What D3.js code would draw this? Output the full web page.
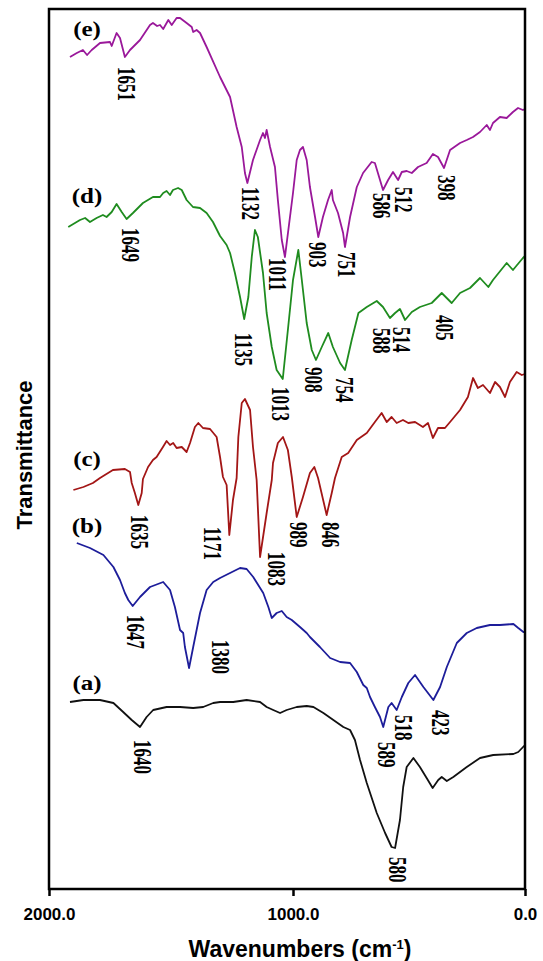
<!DOCTYPE html>
<html>
<head>
<meta charset="utf-8">
<script src="https://cdn.jsdelivr.net/npm/d3@7"></script>
<style>
  body { margin: 0; background: #fff; }
  svg { display: block; }
</style>
</head>
<body>
<div id="chart"></div>
<script>
// spectra: [wavenumber, transmittance (stacked, arbitrary units)]
const specE = [[1914,83.2],[1886,83.6],[1861,83.9],[1844,83.4],[1825,83.9],[1791,84.6],[1750,84.7],[1743,84.3],[1723,85.6],[1709,85.1],[1689,83.2],[1668,83.9],[1627,84.9],[1586,86.4],[1574,86.6],[1557,86.3],[1545,86.4],[1532,86.0],[1518,86.6],[1511,86.9],[1497,86.4],[1477,87.1],[1463,87.1],[1436,86.6],[1415,86.2],[1409,85.7],[1395,85.9],[1381,85.6],[1354,84.2],[1299,81.2],[1258,79.2],[1231,76.2],[1210,74.2],[1197,71.6],[1187,70.6],[1164,72.9],[1135,74.9],[1123,75.6],[1115,75.1],[1108,75.9],[1094,74.2],[1074,72.2],[1062,68.9],[1046,64.9],[1033,63.2],[1000,69.6],[984,72.9],[970,73.9],[957,74.2],[941,72.9],[927,70.2],[905,67.2],[891,65.2],[871,67.2],[849,68.9],[833,69.9],[828,68.9],[806,67.6],[784,65.6],[776,64.2],[754,67.2],[725,70.2],[698,71.6],[661,72.7],[647,72.6],[634,71.6],[612,69.9],[590,70.9],[569,71.7],[547,70.9],[531,71.7],[510,71.8],[488,71.6],[461,72.2],[424,72.6],[397,73.5],[375,73.2],[349,72.1],[323,73.9],[280,74.6],[251,74.9],[224,75.2],[194,75.7],[165,76.4],[151,75.9],[138,76.6],[108,77.2],[79,77.1],[52,77.7],[30,78.1],[9,77.9],[0,78.0]];

const specD = [[1921,66.2],[1873,66.9],[1852,67.1],[1832,66.7],[1805,67.1],[1779,67.4],[1764,67.2],[1743,67.7],[1723,68.5],[1702,67.7],[1682,67.0],[1656,67.6],[1615,68.6],[1574,69.2],[1545,69.2],[1532,69.6],[1518,69.8],[1504,69.4],[1492,69.9],[1471,70.1],[1456,69.9],[1436,68.9],[1410,68.2],[1381,68.1],[1354,67.6],[1328,66.7],[1299,65.3],[1272,64.4],[1258,63.6],[1238,61.6],[1217,59.2],[1200,57.0],[1183,59.2],[1169,63.2],[1156,65.9],[1144,65.2],[1123,61.6],[1108,57.6],[1087,54.2],[1067,51.9],[1042,51.0],[1021,55.9],[1000,60.9],[977,63.9],[962,60.9],[941,56.6],[919,53.9],[901,52.9],[876,54.2],[848,55.6],[828,54.2],[797,52.6],[776,51.9],[747,54.9],[718,57.6],[682,58.2],[639,58.8],[612,58.2],[582,57.1],[560,57.6],[539,58.0],[517,56.9],[488,57.7],[453,58.2],[402,58.6],[359,59.6],[316,58.6],[280,59.6],[237,60.1],[194,61.1],[158,60.2],[138,60.9],[79,62.6],[52,61.9],[9,63.1],[0,63.3]];

const specC = [[1900,39.9],[1859,40.2],[1820,40.6],[1791,41.1],[1738,41.9],[1689,42.0],[1668,41.7],[1661,40.6],[1648,39.6],[1634,38.4],[1620,39.6],[1615,41.0],[1594,42.2],[1574,42.9],[1559,43.2],[1533,44.2],[1518,44.8],[1504,44.4],[1491,44.6],[1477,44.1],[1456,44.2],[1436,43.7],[1422,44.6],[1402,46.2],[1388,46.6],[1369,46.1],[1340,46.0],[1313,45.2],[1299,43.2],[1287,41.2],[1272,40.4],[1261,35.4],[1246,38.9],[1231,41.1],[1224,45.2],[1210,48.6],[1197,49.0],[1176,47.9],[1164,44.2],[1149,40.9],[1135,33.2],[1108,37.6],[1087,40.9],[1082,42.6],[1062,44.6],[1041,45.2],[1021,43.9],[1005,41.2],[984,37.2],[957,39.2],[927,41.6],[908,42.2],[892,41.1],[855,37.4],[833,39.6],[819,41.1],[790,43.2],[762,43.6],[725,44.9],[682,45.6],[647,46.7],[618,47.6],[596,46.7],[575,47.2],[553,46.6],[526,46.9],[503,46.6],[474,46.7],[440,46.2],[418,46.6],[397,45.1],[375,46.1],[345,46.1],[323,46.7],[280,47.9],[246,49.2],[224,51.1],[203,50.1],[181,50.4],[151,49.6],[129,50.7],[108,50.2],[86,49.2],[65,50.7],[36,51.7],[14,51.4],[0,51.5]];

const specB = [[1886,34.6],[1832,34.1],[1777,33.4],[1736,32.2],[1709,30.9],[1689,29.6],[1675,28.9],[1657,28.3],[1627,29.2],[1586,30.2],[1532,30.7],[1504,29.9],[1484,28.2],[1463,25.9],[1450,25.6],[1443,24.2],[1426,22.1],[1409,24.2],[1381,27.6],[1354,29.9],[1327,30.7],[1299,31.1],[1258,31.6],[1217,32.1],[1190,32.0],[1163,31.2],[1122,29.6],[1101,28.2],[1087,27.1],[1067,27.6],[1046,27.8],[1026,27.2],[1005,26.9],[970,26.2],[941,25.6],[927,25.2],[884,24.2],[840,23.1],[797,22.7],[754,22.6],[725,21.7],[697,20.4],[682,20.1],[668,19.2],[647,18.2],[625,17.2],[611,16.2],[589,18.2],[575,18.6],[553,17.9],[531,19.2],[503,20.6],[474,21.4],[438,20.2],[395,18.9],[366,20.2],[337,22.2],[294,24.6],[251,25.6],[208,26.1],[151,26.4],[108,26.4],[50,26.5],[29,26.1],[7,25.7],[0,25.7]];

const specA = [[1914,18.7],[1859,18.9],[1791,18.9],[1736,18.6],[1696,17.7],[1661,16.9],[1627,16.2],[1600,17.2],[1573,17.9],[1518,18.2],[1463,18.2],[1409,18.1],[1368,18.2],[1327,18.6],[1299,18.7],[1245,18.7],[1190,18.9],[1135,18.7],[1108,18.2],[1081,17.9],[1053,17.6],[1026,17.9],[984,18.2],[941,18.3],[912,18.2],[869,17.6],[826,16.9],[783,16.2],[754,15.9],[733,14.9],[711,12.9],[682,10.6],[639,7.6],[603,5.6],[575,4.2],[560,4.1],[539,6.9],[525,10.2],[510,12.2],[481,13.1],[453,12.2],[424,11.1],[398,10.1],[374,10.9],[359,11.2],[337,10.8],[309,11.2],[251,12.2],[194,13.1],[137,13.4],[50,13.5],[29,13.7],[0,14.4]];

// peak labels: [text, wavenumber, transmittance at label top]
const peaksE = [["1651",1684,82.2],["1132",1176,70.2],["1011",1066,63.1],["903",896,64.7],["751",771,63.7],["586",621,69.6],["512",526,70.2],["398",340,71.4]];
const peaksD = [["1649",1668,66.1],["1135",1205,55.6],["1013",1053,50.2],["908",914,52.2],["754",780,51.2],["588",621,56.1],["514",534,56.2],["405",349,57.4]];
const peaksC = [["1635",1631,37.4],["1171",1332,36.2],["1083",1070,33.7],["989",978,36.7],["846",840,36.7]];
const peaksB = [["1647",1648,27.4],["1380",1299,24.9],["589",599,14.7],["518",526,17.4],["423",366,17.9]];
const peaksA = [["1640",1619,14.9],["580",552,3.2]];

const seriesNames = ["(e)", "(d)", "(c)", "(b)", "(a)"];
const seriesColors = ["#9a189a", "#1f8c1f", "#a31616", "#1d1d9a", "#111111"];
const seriesLabelT = [85.3, 68.6, 42.3, 35.6, 19.9];
const seriesLabelWn = 1844;

const xTicks = [2000, 1000, 0];

const width = 543;
const height = 961;
const marginLeft = 49, marginRight = 525, marginTop = 9, marginBottom = 889;

const svg = d3.select("#chart")
  .append("svg")
  .attr("width", width)
  .attr("height", height);

const x = d3.scaleLinear().domain([2000, 1000, 0]).range([marginLeft, 293, marginRight]);
const y = d3.scaleLinear().domain([0, 88]).range([marginBottom, marginTop]);

// curves
const line = d3.line()
  .x(d => x(d[0]))
  .y(d => y(d[1]));

const allSpecs = [specE, specD, specC, specB, specA];
svg.selectAll("path.spec")
  .data(allSpecs)
  .enter()
  .append("path")
  .attr("class", "spec")
  .attr("fill", "none")
  .attr("stroke", (d, i) => seriesColors[i])
  .attr("stroke-width", 1.8)
  .attr("stroke-linejoin", "round")
  .attr("d", line);

// peak labels, rotated to read downwards
const allPeaks = [].concat(peaksE, peaksD, peaksC, peaksB, peaksA);
svg.selectAll("text.peak")
  .data(allPeaks)
  .enter()
  .append("text")
  .attr("class", "peak")
  .attr("transform", d => `translate(${x(d[1])},${y(d[2])}) rotate(90) scale(1,1.45)`)
  .attr("dominant-baseline", "central")
  .style("font-family", "'Liberation Serif', 'Times New Roman', serif")
  .style("font-weight", "bold")
  .style("font-size", "17px")
  .style("fill", "#000")
  .text(d => d[0]);

// series labels
svg.selectAll("text.series")
  .data(seriesNames)
  .enter()
  .append("text")
  .attr("class", "series")
  .attr("transform", (d, i) => `translate(${x(seriesLabelWn)},${y(seriesLabelT[i])}) scale(1.25,1)`)
  .attr("text-anchor", "middle")
  .style("font-family", "'Liberation Serif', 'Times New Roman', serif")
  .style("font-weight", "bold")
  .style("font-size", "20px")
  .style("fill", "#000")
  .text(d => d);

// frame
svg.append("rect")
  .attr("x", marginLeft)
  .attr("y", marginTop)
  .attr("width", marginRight - marginLeft)
  .attr("height", marginBottom - marginTop)
  .attr("fill", "none")
  .attr("stroke", "#000")
  .attr("stroke-width", 2.5);

// x axis
const xAxis = svg.append("g")
  .attr("transform", `translate(0,${marginBottom})`)
  .call(d3.axisBottom(x)
    .tickValues(xTicks)
    .tickFormat(d3.format(".1f"))
    .tickSize(7)
    .tickSizeOuter(0)
    .tickPadding(12));
xAxis.select(".domain").remove();
xAxis.selectAll(".tick line").attr("stroke", "#000").attr("stroke-width", 2.5);
xAxis.selectAll("text")
  .style("font-family", "'Liberation Sans', Arial, sans-serif")
  .style("font-weight", "bold")
  .style("font-size", "17px")
  .style("fill", "#000");

// axis titles
const xTitle = svg.append("text")
  .attr("x", 300)
  .attr("y", 957)
  .attr("text-anchor", "middle")
  .style("font-family", "'Liberation Sans', Arial, sans-serif")
  .style("font-weight", "bold")
  .style("font-size", "23px");
xTitle.append("tspan").text("Wavenumbers (cm");
xTitle.append("tspan").attr("dy", -8).style("font-size", "13px").text("-1");
xTitle.append("tspan").attr("dy", 8).text(")");

svg.append("text")
  .attr("transform", "translate(32,455) rotate(-90)")
  .attr("text-anchor", "middle")
  .style("font-family", "'Liberation Sans', Arial, sans-serif")
  .style("font-weight", "bold")
  .style("font-size", "22px")
  .text("Transmittance");
</script>
</body>
</html>
